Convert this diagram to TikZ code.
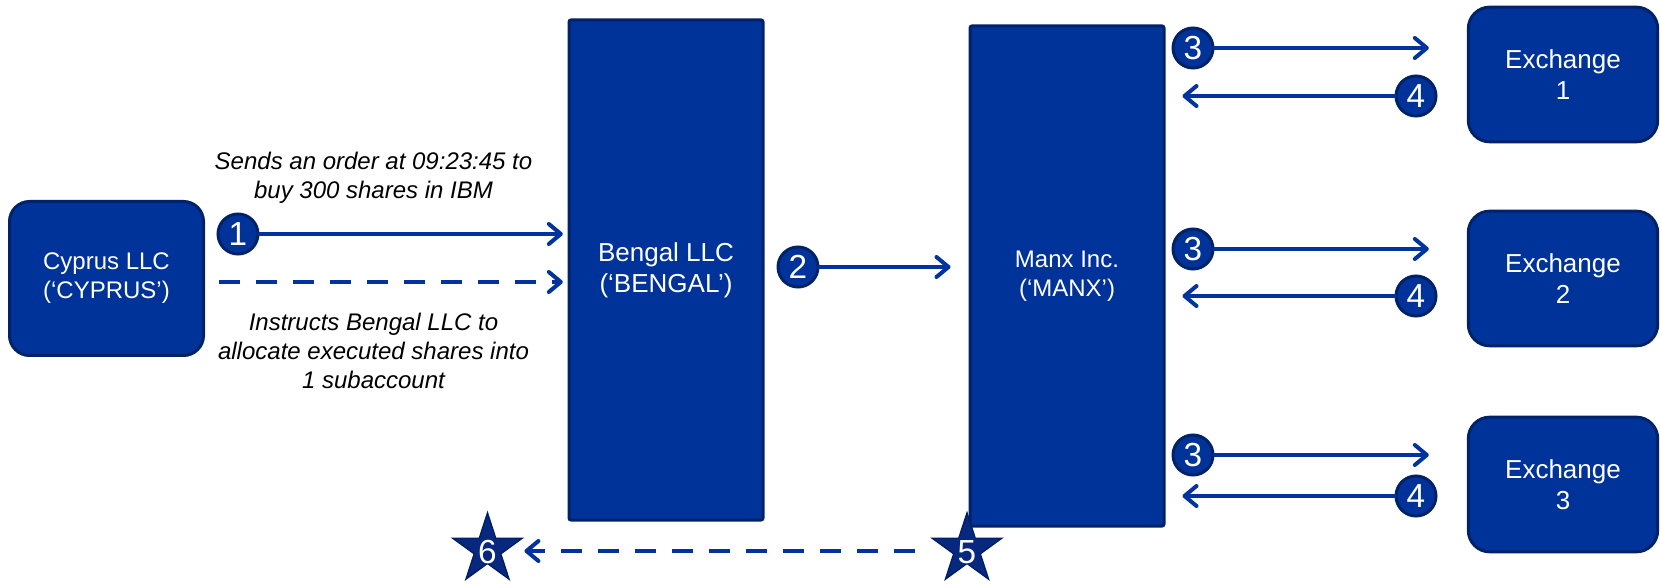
\documentclass[tikz,border=0pt]{standalone}
\usepackage{fontspec}
\setmainfont{Liberation Sans}
\usetikzlibrary{arrows.meta,shapes.geometric}
\definecolor{boxblue}{RGB}{0,51,153}
\definecolor{boxedge}{RGB}{0,34,104}
\definecolor{arrowblue}{RGB}{0,51,160}
\definecolor{starfill}{RGB}{8,40,128}
\definecolor{staredge}{RGB}{0,30,100}
\begin{document}
\begin{tikzpicture}[x=0.75pt,y=-0.75pt,
  entity/.style={draw=boxedge, fill=boxblue, line width=2.25pt, text=white,
    align=center, font=\fontsize{18}{21.6}\selectfont, inner sep=0pt},
  bigtext/.style={font=\fontsize{19.5}{23}\selectfont},
  tallbox/.style={entity, rounded corners=1.5pt, minimum width=145.5pt, minimum height=375pt},
  roundbox/.style={entity, rounded corners=15pt, minimum width=145.5pt, minimum height=115.5pt},
  exchbox/.style={entity, bigtext, rounded corners=16pt, minimum width=142pt, minimum height=101pt},
  num/.style={circle, draw=boxedge, fill=boxblue, line width=2.25pt, text=white,
    minimum size=30pt, inner sep=0pt, font=\fontsize{25}{25}\selectfont},
  starnode/.style={star, star points=5, star point ratio=2.618, draw=staredge, fill=starfill,
    line width=1pt, minimum size=55pt, inner sep=0pt},
  stardigit/.style={text=white, font=\fontsize{25}{25}\selectfont, inner sep=0pt},
  lbl/.style={align=center, font=\fontsize{18}{21.6}\selectfont\itshape, text=black},
  arr/.style={draw=arrowblue, line width=3pt, line cap=round,
    -{Straight Barb[length=9pt,width=15pt,line cap=round,line join=round]}},
  dashpat/.style={line cap=butt, dash pattern=on 15.75pt off 12pt}
]
\useasboundingbox (0,0) rectangle (1660,584);

% main boxes
\node[roundbox] (cyprus) at (106.5,278.5) {Cyprus LLC\\(‘CYPRUS’)};
\node[tallbox, bigtext] (bengal) at (666,270) {Bengal LLC\\(‘BENGAL’)};
\node[tallbox] (manx) at (1067,276) {Manx Inc.\\(‘MANX’)};
\node[exchbox] (ex1) at (1563,74.5) {Exchange\\1};
\node[exchbox] (ex2) at (1563,278.5) {Exchange\\2};
\node[exchbox] (ex3) at (1563,484.5) {Exchange\\3};

% step 1
\node[num] (n1) at (238,234) {1};
\draw[arr, shorten >=3.5pt] (n1) -- (n1 -| bengal.west);
\coordinate (d1) at (219,282);
\draw[arr, dashpat, shorten >=3.5pt] (d1) -- (d1 -| bengal.west);
\node[lbl] (t1) at (373.5,177.5) {Sends an order at 09:23:45 to\\buy 300 shares in IBM};
\node[lbl] (t2) at (373.5,351) {Instructs Bengal LLC to\\allocate executed shares into\\1 subaccount};

% step 2
\node[num] (n2) at (798,267) {2};
\draw[arr, shorten >=13.5pt] (n2) -- (n2 -| manx.west);

% steps 3 and 4
\foreach \k/\ya/\yb in {1/48/96, 2/249/296, 3/455/496}{
  \node[num] (a\k) at (1193,\ya) {3};
  \node[num] (b\k) at (1416,\yb) {4};
  \draw[arr, shorten >=28.5pt] (a\k) -- (a\k -| ex\k.west);
  \draw[arr, shorten >=12.75pt] (b\k) -- (b\k -| manx.east);
}

% steps 5 and 6
\node[starnode, label={[stardigit, yshift=-2pt]center:6}] (s6) at (487.5,549.5) {};
\node[starnode, label={[stardigit, yshift=-2pt]center:5}] (s5) at (967,549.5) {};
\coordinate (d5) at (915,551);
\draw[arr, dashpat] (d5) -- (d5 -| s6.outer point 5);
\end{tikzpicture}
\end{document}
